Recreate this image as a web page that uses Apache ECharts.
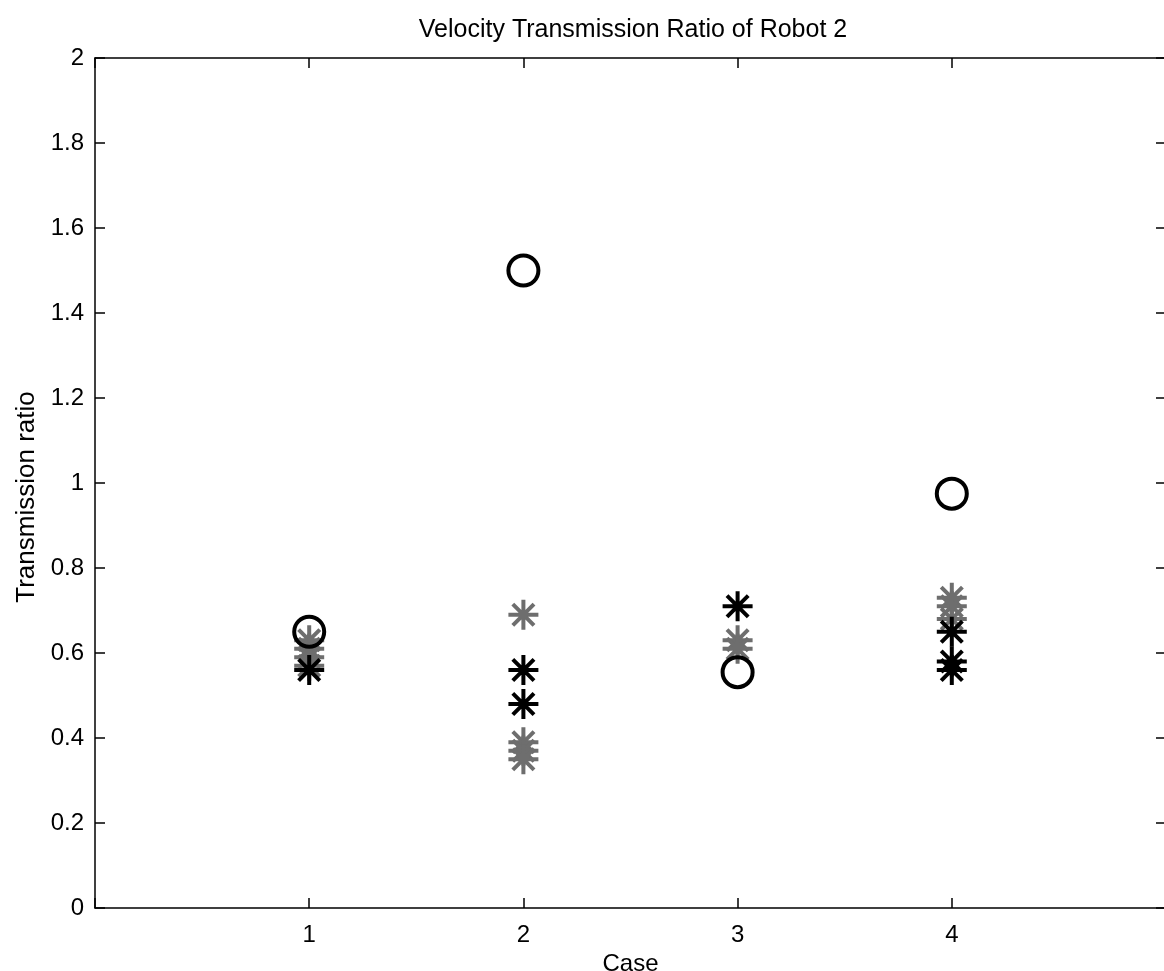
<!DOCTYPE html>
<html>
<head>
<meta charset="utf-8">
<script src="https://cdn.jsdelivr.net/npm/echarts@6/dist/echarts.min.js"></script>
<style>
    html, body { margin: 0; padding: 0; background: #fff; }
    #chart { width: 1164px; height: 971px; }
</style>
</head>
<body>
<div id="chart"></div>
<script>
    // values: [case, ratio]
    const circlePoints = [[1, 0.65], [2, 1.5], [3, 0.555], [4, 0.975]];
    const blackStars = [[1, 0.56], [2, 0.56], [2, 0.48], [3, 0.71], [4, 0.65], [4, 0.58], [4, 0.56]];
    const grayStars = [[1, 0.63], [1, 0.61], [1, 0.59], [1, 0.57],
        [2, 0.69], [2, 0.39], [2, 0.37], [2, 0.35],
        [3, 0.63], [3, 0.61],
        [4, 0.73], [4, 0.71], [4, 0.68]];

    const star = 'path://M0,-10L0,10M-10,0L10,0M-7.07,-7.07L7.07,7.07M-7.07,7.07L7.07,-7.07';
    const font = 'Liberation Sans';

    const chart = echarts.init(document.getElementById('chart'));

    const axisLine = { show: true, onZero: false, lineStyle: { color: '#000', width: 1.5 } };
    const tick = { show: true, inside: true, length: 10, lineStyle: { color: '#000', width: 1.5 } };

    const option = {
        backgroundColor: '#fff',
        animation: false,
        title: {
            text: 'Velocity Transmission Ratio of Robot 2',
            left: 628, textAlign: 'center', top: 13,
            textStyle: { fontFamily: font, fontSize: 25, fontWeight: 'normal', color: '#000' }
        },
        grid: { left: 95, width: 1071, top: 58, bottom: 63, outerBoundsMode: 'none', containLabel: false },
        xAxis: [
            {
                type: 'value', position: 'bottom', min: 0, max: 5, interval: 1,
                name: 'Case', nameLocation: 'middle', nameGap: 38,
                nameTextStyle: { fontFamily: font, fontSize: 24, color: '#000' },
                axisLine: axisLine,
                axisTick: tick,
                axisLabel: {
                    fontFamily: font, fontSize: 24, color: '#000', margin: 15,
                    formatter: v => (v === 0 || v === 5) ? '' : String(v)
                },
                splitLine: { show: false }
            },
            {
                type: 'value', position: 'top', min: 0, max: 5, interval: 1,
                axisLine: axisLine,
                axisTick: tick,
                axisLabel: { show: false },
                splitLine: { show: false }
            }
        ],
        yAxis: [
            {
                type: 'value', position: 'left', min: 0, max: 2, interval: 0.2,
                name: 'Transmission ratio', nameLocation: 'middle', nameGap: 48,
                nameTextStyle: { fontFamily: font, fontSize: 26, color: '#000', padding: [0, 28, 0, 0] },
                axisLine: axisLine,
                axisTick: tick,
                axisLabel: {
                    fontFamily: font, fontSize: 24, color: '#000', margin: 11,
                    formatter: v => String(Math.round(v * 10) / 10)
                },
                splitLine: { show: false }
            },
            {
                type: 'value', position: 'right', min: 0, max: 2, interval: 0.2,
                axisLine: axisLine,
                axisTick: tick,
                axisLabel: { show: false },
                splitLine: { show: false }
            }
        ],
        series: [
            {
                name: 'gray', type: 'scatter', data: grayStars,
                symbol: star, symbolSize: 30, symbolKeepAspect: true,
                itemStyle: { color: '#6e6e6e', borderColor: '#6e6e6e', borderWidth: 4, opacity: 1 }
            },
            {
                name: 'black', type: 'scatter', data: blackStars,
                symbol: star, symbolSize: 30, symbolKeepAspect: true,
                itemStyle: { color: '#000', borderColor: '#000', borderWidth: 4, opacity: 1 }
            },
            {
                name: 'circle', type: 'scatter', data: circlePoints,
                symbol: 'circle', symbolSize: 30,
                itemStyle: { color: 'rgba(0,0,0,0)', borderColor: '#000', borderWidth: 4, opacity: 1 }
            }
        ]
    };

    chart.setOption(option);
</script>
</body>
</html>
